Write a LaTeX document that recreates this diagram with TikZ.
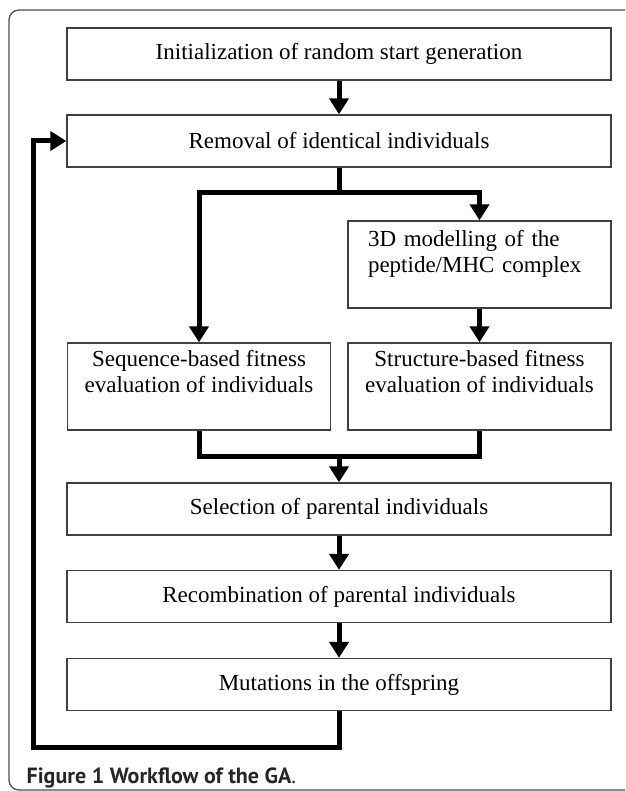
\documentclass[tikz,border=0pt]{standalone}
\usepackage{fontspec}
\setmainfont{Liberation Serif}
\newfontfamily\capfont{PT Sans}
\usetikzlibrary{arrows.meta}

\begin{document}
\begin{tikzpicture}[x=1pt,y=-1pt,
              every node/.style={draw=black!75,line width=1.3pt,inner sep=0pt,
                                 font=\fontsize{23}{26}\selectfont},
              wide/.style={minimum width=544pt,minimum height=52pt},
              half/.style={minimum width=263pt,minimum height=87pt,align=center},
              link/.style={line width=5pt},
              flow/.style={link,-{Triangle[width=19pt,length=16pt]}}
            ]
              \useasboundingbox (0,0) rectangle (625,791);
              \begin{scope}
                \clip (0,0) rectangle (625,791);
                \draw[black!70,line width=1.3pt,rounded corners=10pt] (9,10) rectangle (640,790);
              \end{scope}

              \node[wide] (init) at (339,54) {Initialization of random start generation};
              \node[wide] (removal) at (339,141) {Removal of identical individuals};
              \node[half,align=left,text width=223pt,inner xsep=20pt] (model) at (479.5,264.5)
                {3D modelling of the\\peptide/MHC complex\\\mbox{}};
              \node[half] (seq) at (199,386.5)
                {Sequence-based fitness\\evaluation of individuals\\\rule[-5pt]{0pt}{0pt}};
              \node[half] (struct) at (479.5,386.5)
                {Structure-based fitness\\evaluation of individuals\\\rule[-5pt]{0pt}{0pt}};
              \node[wide] (select) at (339,509) {Selection of parental individuals};
              \node[wide] (recomb) at (339,596.5) {Recombination of parental individuals};
              \node[wide] (mutate) at (339,684.5) {Mutations in the offspring};

              \coordinate (fork) at (339,193);
              \coordinate (join) at (339,456);
              \coordinate (back) at (33,747);

              \draw[flow] (init) -- (removal);
              \draw[link] (removal) -- (fork);
              \draw[flow] (fork) -| (seq);
              \draw[flow] (fork) -| (model);
              \draw[flow] (model) -- (struct);
              \draw[link] (seq) |- (join) -| (struct);
              \draw[flow] (join) -- (select);
              \draw[flow] (select) -- (recomb);
              \draw[flow] (recomb) -- (mutate);
              \draw[flow] (mutate) |- (back) |- (removal);

              \node[draw=none,anchor=base west,font=\capfont\fontsize{22}{26}\selectfont,text=black!85]
                (caption) at (26,783) {\textbf{Figure 1 Workflow of the GA}.};
            \end{tikzpicture}
\end{document}
